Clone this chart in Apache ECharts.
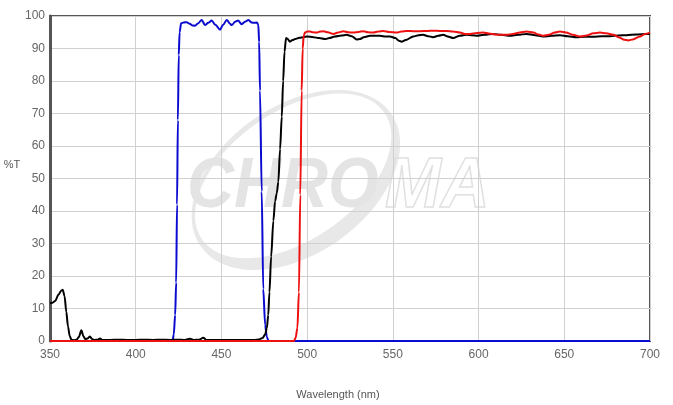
<!DOCTYPE html>
<html>
<head>
<meta charset="utf-8">
<script src="https://cdn.jsdelivr.net/npm/echarts@6/dist/echarts.min.js"></script>
<style>
html,body{margin:0;padding:0;background:#fff;}
#chart{width:673px;height:405px;}
</style>
</head>
<body>
<div id="chart"></div>
<script>
// Wavelength (nm) and %T values
var blueX = [350, 421.5, 422.2, 423, 423.6, 424.1, 424.6, 425.1, 425.6, 426.5, 428, 429.7, 431.5, 433, 434.6, 436.5, 438.5, 440.4, 442.3, 444.3, 446.5, 449.2, 451, 453.1, 455, 456, 458, 459.7, 461.8, 464, 465.7, 467.7, 469, 470.6, 471.5, 472, 472.5, 473.5, 474.4, 475.5, 476.5, 477.5, 700];
var blueY = [0, 0, 2, 8, 18, 42, 68, 88, 95, 97.8, 98.0, 98.1, 97.6, 97.1, 97.0, 97.8, 98.8, 97.2, 97.9, 98.6, 97.3, 95.8, 97.3, 98.8, 97.6, 97.2, 98.2, 98.6, 97.5, 98.3, 98.8, 98.0, 97.9, 98.0, 97.4, 92, 77, 46, 16, 5, 1.2, 0, 0];

var blackX = [350, 351.5, 353, 355, 356.5, 357.4, 358.5, 359.5, 360.5, 361.5, 362.5, 364, 365.5, 366.8, 368.3, 369.5, 370.5, 372, 373.3, 374.5, 376, 378, 379.2, 380.5, 385, 390, 395, 400, 405, 410, 415, 420, 425, 428, 431.7, 434, 437, 439.4, 441.5, 445, 450, 455, 460, 465, 469, 472, 474, 475.5, 476.5, 477.3, 478, 479, 480.3, 481.3, 482.3, 483.2, 484.2, 485.2, 486, 486.8, 487.7, 488.5, 490, 491.5, 493, 495.5, 497.8, 500, 503.6, 507, 510.4, 513, 516.2, 520, 523, 526, 528.9, 530.8, 533, 536.7, 540, 542.5, 546, 548.3, 551.5, 553.5, 555.1, 557.5, 561.9, 565, 567.7, 570.5, 573.5, 576.5, 579.4, 582, 585.2, 589, 593, 598.9, 603.5, 608.6, 613, 618.3, 623, 628, 633, 637.7, 642.5, 647.5, 652, 657.2, 662, 666.9, 671.8, 676.7, 681.5, 686.4, 692, 698, 700];
var blackY = [11.6, 11.8, 12.3, 14.3, 15.5, 15.8, 13.8, 9, 4.5, 1.5, 0.4, 0.2, 0.4, 1.2, 3.3, 1.5, 0.6, 0.8, 1.4, 0.6, 0.3, 0.4, 0.8, 0.3, 0.3, 0.4, 0.3, 0.3, 0.4, 0.3, 0.4, 0.3, 0.4, 0.3, 0.7, 0.3, 0.4, 1.0, 0.3, 0.3, 0.3, 0.3, 0.3, 0.3, 0.3, 0.5, 0.9, 2, 4, 8, 15, 26, 37, 43, 45.5, 49, 59, 69, 80, 89, 93.2, 93.0, 92.1, 92.6, 92.9, 93.3, 93.5, 93.7, 93.5, 93.2, 92.9, 93.2, 93.7, 94.0, 94.2, 93.8, 92.8, 92.9, 93.5, 93.9, 93.9, 93.9, 93.7, 93.7, 93.2, 92.4, 92.1, 92.6, 93.7, 94.1, 94.2, 93.8, 93.5, 93.9, 94.2, 93.7, 93.2, 93.9, 94.2, 93.9, 94.2, 94.5, 94.2, 93.9, 94.2, 94.5, 94.1, 93.7, 93.9, 94.1, 93.8, 93.5, 93.6, 93.6, 93.8, 93.8, 94.0, 94.1, 94.3, 94.5, 94.5];

var redX = [350, 492.3, 493.3, 494.3, 495.2, 496, 496.8, 497.4, 498, 498.75, 500, 501.7, 503.5, 505.6, 507.5, 509.4, 512, 515.3, 518, 521.1, 524, 527, 530, 532.8, 535.5, 538.6, 541.5, 544.4, 548, 552.2, 555, 558, 562, 565.8, 570, 573.5, 577.5, 581.4, 585, 589.2, 592, 595, 599, 602.8, 606, 610, 613, 616.4, 620, 624, 628, 632, 635, 637.7, 641, 644.5, 647.5, 651, 655, 659.2, 663, 667, 670.8, 674.5, 678.6, 682, 685, 687.4, 690, 694.2, 697, 700];
var redY = [0, 0, 1, 4, 15, 45, 77, 90, 94, 94.9, 95.2, 95.2, 95.0, 94.9, 95.2, 95.3, 95.0, 94.5, 94.9, 95.3, 95.0, 94.9, 95.1, 95.3, 95.0, 94.9, 95.2, 95.4, 95.1, 94.9, 95.2, 95.4, 95.3, 95.3, 95.4, 95.5, 95.4, 95.4, 95.2, 94.9, 94.5, 94.5, 94.8, 94.9, 94.6, 94.3, 94.2, 94.2, 94.5, 94.9, 95.2, 94.9, 94.3, 93.9, 94.2, 94.9, 95.2, 94.9, 94.2, 93.7, 94.0, 94.7, 94.9, 94.7, 94.2, 93.4, 92.7, 92.5, 92.8, 93.7, 94.5, 94.9];

var xTicks = {min: 350, max: 700, interval: 50};
var yTicks = {min: 0, max: 100, interval: 10};

function pairs(xs, ys) { return xs.map(function (x, i) { return [x, ys[i]]; }); }

var chart = echarts.init(document.getElementById('chart'), null, {renderer: 'canvas'});
var lineBase = {type: 'line', showSymbol: false, symbol: 'none', smooth: 0.3, smoothMonotone: 'x', animation: false};

chart.setOption({
  animation: false,
  backgroundColor: '#ffffff',
  grid: {left: 50, right: 23, top: 16, bottom: 62, show: true, borderColor: '#555555', borderWidth: 2, backgroundColor: 'transparent'},
  xAxis: {
    type: 'value', min: xTicks.min, max: xTicks.max, interval: xTicks.interval,
    name: 'Wavelength (nm)', nameLocation: 'middle', nameGap: 48,
    nameTextStyle: {color: '#555', fontSize: 11, fontFamily: 'Liberation Sans', padding: [0, 24, 0, 0]},
    axisLine: {show: false}, axisTick: {show: false},
    axisLabel: {color: '#666', fontSize: 12, fontFamily: 'Liberation Sans', margin: 8},
    splitLine: {show: true, lineStyle: {color: '#d0d0d0', width: 1}}
  },
  yAxis: {
    type: 'value', min: yTicks.min, max: yTicks.max, interval: yTicks.interval,
    axisLine: {show: true, lineStyle: {color: '#555555', width: 3}}, axisTick: {show: false},
    axisLabel: {color: '#666', fontSize: 12, fontFamily: 'Liberation Sans', margin: 5},
    splitLine: {show: true, lineStyle: {color: '#d0d0d0', width: 1}}
  },
  graphic: {elements: [
    {type: 'text', x: 12, y: 165, silent: true,
      style: {text: '%T', font: '11px "Liberation Sans"', fill: '#555', textAlign: 'center', textVerticalAlign: 'middle', verticalAlign: 'middle', align: 'center'}},
    {type: 'group', x: 296, y: 180, rotation: 0.61, z: -10, silent: true, children: [
      {type: 'ellipse', z: -10, shape: {cx: 0, cy: 0, rx: 116, ry: 74}, style: {fill: '#e8e8e8'}},
      {type: 'ellipse', z: -9, shape: {cx: 0, cy: -5, rx: 111, ry: 64}, style: {fill: '#ffffff'}}
    ]},
    {type: 'text', x: 187, y: 223, z: -8, scaleX: 0.93, silent: true,
      style: {text: 'CHRO', font: 'italic bold 70px "Liberation Sans"', fill: '#e4e4e4', textAlign: 'left', textVerticalAlign: 'bottom', verticalAlign: 'bottom'}},
    {type: 'text', x: 385, y: 223, z: -8, scaleX: 0.96, silent: true,
      style: {text: 'MA', font: 'italic bold 70px "Liberation Sans"', fill: 'rgba(255,255,255,0)', stroke: '#e0e0e0', lineWidth: 1.5, textAlign: 'left', textVerticalAlign: 'bottom', verticalAlign: 'bottom'}}
  ]},
  series: [
    Object.assign({}, lineBase, {name: 'blue', data: pairs(blueX, blueY), lineStyle: {color: '#0a0ad0', width: 2}, itemStyle: {color: '#0a0ad0'}, z: 3}),
    Object.assign({}, lineBase, {name: 'black', data: pairs(blackX, blackY), lineStyle: {color: '#000000', width: 2}, itemStyle: {color: '#000000'}, z: 4}),
    Object.assign({}, lineBase, {name: 'red', data: pairs(redX, redY), lineStyle: {color: '#ee1111', width: 2}, itemStyle: {color: '#ee1111'}, z: 5})
  ]
});
</script>
</body>
</html>
